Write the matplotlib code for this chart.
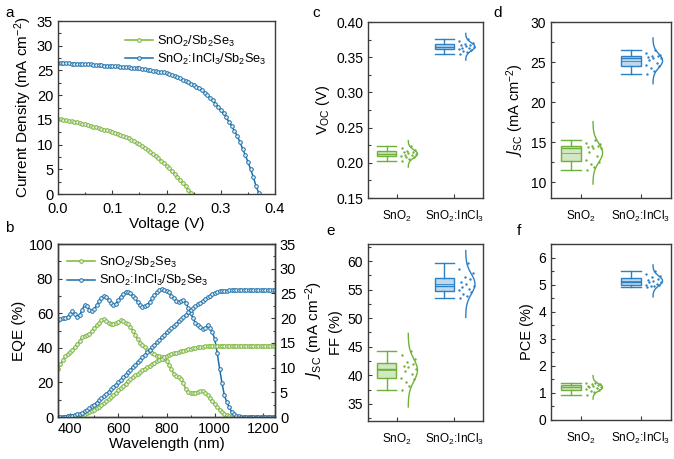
import numpy as np
import matplotlib
matplotlib.use('Agg')
import matplotlib.pyplot as plt
from matplotlib.ticker import AutoMinorLocator

plt.rcParams['font.family'] = ['Liberation Sans', 'DejaVu Sans']
plt.rcParams['mathtext.default'] = 'regular'
plt.rcParams['axes.edgecolor'] = '#3c3c3c'
plt.rcParams['xtick.color'] = '#3c3c3c'
plt.rcParams['ytick.color'] = '#3c3c3c'
plt.rcParams['xtick.labelcolor'] = 'black'
plt.rcParams['ytick.labelcolor'] = 'black'

GREEN = '#7ab632'
BLUE = '#1a6faa'
GREEN_BOX = '#6fb23a'
BLUE_BOX = '#2c80c6'

# ---- a: J-V curves ----
v_green = np.arange(50) * 0.005
j_green = [15.2, 15.1, 15.0, 14.9, 14.8, 14.7, 14.6, 14.5, 14.35, 14.2,
           14.1, 13.95, 13.8, 13.65, 13.5, 13.35, 13.2, 13.05, 12.9, 12.75,
           12.6, 12.4, 12.2, 12.0, 11.8, 11.55, 11.3, 11.0, 10.7, 10.4,
           10.05, 9.7, 9.35, 8.95, 8.55, 8.1, 7.65, 7.2, 6.75, 6.25,
           5.75, 5.2, 4.65, 4.05, 3.45, 2.85, 2.2, 1.55, 0.85, 0.15]
v_blue = np.arange(75) * 0.005
j_blue = [26.5, 26.5, 26.5, 26.45, 26.45, 26.4, 26.4, 26.4, 26.35, 26.35,
          26.3, 26.3, 26.25, 26.2, 26.15, 26.1, 26.05, 26.0, 26.0, 25.95,
          25.9, 25.85, 25.8, 25.75, 25.7, 25.65, 25.6, 25.55, 25.5, 25.45,
          25.4, 25.3, 25.2, 25.1, 25.0, 24.95, 24.85, 24.75, 24.7, 24.6,
          24.5, 24.3, 24.1, 23.85, 23.6, 23.4, 23.15, 22.9, 22.6, 22.3,
          22.0, 21.7, 21.35, 21.0, 20.5, 20.0, 19.5, 19.0, 18.3, 17.6,
          17.0, 16.3, 15.5, 14.6, 13.8, 12.8, 11.8, 10.6, 9.2, 7.9,
          6.5, 5.0, 3.4, 1.6, 0.2]

# ---- b: EQE and integrated Jsc ----
wl = np.arange(350, 1251, 10)
eqe_blue = [56, 56.5, 57, 57, 58, 59.5, 61, 59.5, 58, 59,
            62, 64.8, 64, 62, 61.5, 62.5, 64.5, 67, 69, 70,
            69.5, 67.5, 66, 65, 65.5, 67.5, 69.5, 71, 72, 72,
            71.5, 70, 68.5, 66.5, 64.5, 63.5, 64, 65, 66.5, 68.5,
            70.5, 72, 73.5, 74, 73.5, 73, 72, 70, 68.5, 67,
            66.5, 67, 67.5, 66, 63, 60, 57, 54.5, 53, 52,
            51, 51.5, 53, 51.5, 49, 45, 37, 28, 19.5, 12.5,
            8.5, 5.5, 3, 1.5, 0.8, 0.4, 0.2] + [0.1] * 14
eqe_green = [28, 30.5, 33, 35, 36.5, 37.7, 39, 40.5, 42, 44,
             46, 47, 47.5, 48.2, 49.5, 51.5, 53, 54.5, 55.8, 56.5,
             55.5, 54.5, 54, 54, 54.2, 55, 55.8, 55.5, 54.5, 53.5,
             52, 50, 47.5, 45, 43, 41.5, 40.2, 39, 38, 37,
             36.2, 35.5, 35, 34.5, 33.5, 32.5, 30, 27.5, 25, 23.5,
             23, 22.2, 19.5, 16, 14.5, 14, 13.9, 14, 14.5, 15,
             14.8, 14, 12.5, 11, 9, 7.5, 6, 4.3, 3, 1.8,
             1, 0.5, 0.3, 0.1] + [0.0] * 17
jsc_blue = [0, 0.02, 0.05, 0.1, 0.15, 0.22, 0.3, 0.4, 0.52, 0.66,
            0.9, 1.12, 1.38, 1.75, 2.13, 2.52, 2.93, 3.35, 3.78, 4.22,
            4.67, 5.13, 5.6, 6.07, 6.55, 7.03, 7.52, 8.02, 8.53, 9.05,
            9.57, 10.09, 10.6, 11.1, 11.6, 12.1, 12.6, 13.1, 13.6, 14.1,
            14.6, 15.1, 15.6, 16.1, 16.6, 17.1, 17.55, 18.0, 18.45, 18.9,
            19.35, 19.8, 20.25, 20.7, 21.15, 21.6, 22.0, 22.4, 22.8, 23.15,
            23.5, 23.85, 24.2, 24.5, 24.8, 25.05, 25.25, 25.4, 25.5, 25.55,
            25.58] + [25.6] * 20
jsc_green = [0.0, 0.02, 0.05, 0.08, 0.12, 0.17, 0.23, 0.3, 0.38, 0.47,
             0.57, 0.65, 0.75, 0.98, 1.23, 1.5, 1.8, 2.12, 2.46, 2.82,
             3.2, 3.6, 4.02, 4.45, 4.9, 5.4, 5.85, 6.3, 6.75, 7.2,
             7.6, 8.0, 8.4, 8.75, 9.1, 9.45, 9.8, 10.1, 10.4, 10.7,
             11.0, 11.3, 11.55, 11.8, 12.05, 12.3, 12.5, 12.7, 12.85, 13.0,
             13.15, 13.3, 13.45, 13.6, 13.7, 13.8, 13.9, 14.0, 14.08, 14.15,
             14.22, 14.28, 14.32, 14.36, 14.4, 14.42, 14.44, 14.45] + [14.46] * 23

# ---- c-f: device statistics ----
groups = ['SnO$_2$', 'SnO$_2$:InCl$_3$']
voc_sno2 = [0.2023, 0.2055, 0.2078, 0.2085, 0.2095, 0.2108, 0.2118, 0.2123,
            0.2135, 0.2148, 0.2160, 0.2165, 0.2180, 0.2205, 0.2237]
voc_incl3 = [0.3548, 0.3575, 0.3595, 0.3605, 0.3615, 0.3628, 0.3638, 0.3644,
             0.3655, 0.3668, 0.3680, 0.3690, 0.3705, 0.3728, 0.3758]
jsc_sno2 = [11.55, 11.9, 12.3, 12.5, 12.8, 13.2, 13.7, 14.2,
            14.3, 14.4, 14.45, 14.5, 14.7, 14.9, 15.3]
jsc_incl3 = [23.45, 23.9, 24.2, 24.45, 24.6, 24.9, 25.2, 25.5,
             25.55, 25.6, 25.7, 25.75, 25.9, 26.1, 26.45]
ff_sno2 = [37.5, 38.2, 38.9, 39.3, 39.6, 40.2, 40.7, 41.1,
           41.4, 41.7, 42.0, 42.3, 42.9, 43.5, 44.2]
ff_incl3 = [53.5, 53.9, 54.3, 54.6, 54.9, 55.2, 55.4, 55.6,
            56.0, 56.4, 56.8, 57.2, 57.9, 58.7, 59.6]
pce_sno2 = [0.92, 1.02, 1.08, 1.11, 1.14, 1.18, 1.21, 1.23,
            1.25, 1.27, 1.29, 1.32, 1.33, 1.35, 1.38]
pce_incl3 = [4.93, 4.94, 4.96, 4.97, 5.0, 5.04, 5.08, 5.1,
             5.14, 5.18, 5.22, 5.27, 5.32, 5.4, 5.52]

# fixed horizontal scatter of the dots next to each box
dot_offsets = [0.10, 0.22, 0.16, 0.30, 0.08, 0.26, 0.14, 0.34,
               0.20, 0.12, 0.28, 0.18, 0.32, 0.09, 0.24]


def style_ax(ax, fs=10):
    ax.tick_params(direction='in', which='both', labelsize=fs, width=0.8)
    ax.tick_params(which='major', length=3)
    ax.tick_params(which='minor', length=1.8)
    for s in ax.spines.values():
        s.set_linewidth(1.0)


def curve(ax, x, y, color, **kw):
    ax.plot(x, y, '-o', color=color, lw=1.1, ms=2.6, mfc='#e8f0f5',
            mec=color, mew=0.7, **kw)


fig = plt.figure(figsize=(6.74, 4.59), dpi=100)

# a
ax = fig.add_axes([0.0861, 0.5773, 0.3220, 0.3769])
curve(ax, v_green, j_green, GREEN, label='SnO$_2$/Sb$_2$Se$_3$')
curve(ax, v_blue, j_blue, BLUE, label='SnO$_2$:InCl$_3$/Sb$_2$Se$_3$')
ax.set_xlim(0, 0.4)
ax.set_ylim(0, 35)
ax.set_xticks(np.arange(0, 0.41, 0.1))
ax.set_yticks(np.arange(0, 36, 5))
ax.xaxis.set_minor_locator(AutoMinorLocator(2))
ax.yaxis.set_minor_locator(AutoMinorLocator(2))
ax.set_xlabel('Voltage (V)', fontsize=11, labelpad=0.5)
ax.set_ylabel('Current Density (mA cm$^{-2}$)', fontsize=11, labelpad=2)
style_ax(ax, 10.5)
ax.tick_params(axis='x', pad=6)
ax.legend(loc='upper right', frameon=False, fontsize=9.2, handlelength=2.2,
          handletextpad=0.3, borderaxespad=0.3, labelspacing=0.25,
          bbox_to_anchor=(1.0, 0.98))
fig.text(0.008, 0.962, 'a', fontsize=11)

# b
ax = fig.add_axes([0.0861, 0.0915, 0.3220, 0.3769])
ax2 = ax.twinx()
curve(ax, wl, eqe_green, GREEN, label='SnO$_2$/Sb$_2$Se$_3$')
curve(ax, wl, eqe_blue, BLUE, label='SnO$_2$:InCl$_3$/Sb$_2$Se$_3$')
curve(ax2, wl, jsc_green, GREEN)
curve(ax2, wl, jsc_blue, BLUE)
ax.set_xlim(350, 1250)
ax.set_ylim(0, 100)
ax2.set_ylim(0, 35)
ax.set_xticks(np.arange(400, 1201, 200))
ax.set_yticks(np.arange(0, 101, 20))
ax2.set_yticks(np.arange(0, 36, 5))
ax.xaxis.set_minor_locator(AutoMinorLocator(2))
ax.yaxis.set_minor_locator(AutoMinorLocator(2))
ax2.yaxis.set_minor_locator(AutoMinorLocator(2))
ax.set_xlabel('Wavelength (nm)', fontsize=11, labelpad=1)
ax.set_ylabel('EQE (%)', fontsize=11, labelpad=2)
ax2.set_ylabel('$\\mathit{J}_{SC}$ (mA cm$^{-2}$)', fontsize=11, labelpad=5)
style_ax(ax, 10.5)
style_ax(ax2, 10.5)
ax.legend(loc='upper left', frameon=False, fontsize=9.2, handlelength=2.2,
          handletextpad=0.3, borderaxespad=0.3, labelspacing=0.25,
          bbox_to_anchor=(0.0, 0.99))
fig.text(0.008, 0.495, 'b', fontsize=11)


def stat_panel(rect, data, ylim, yticks, ylabel, letter, lpos):
    ax = fig.add_axes(rect)
    colors = [GREEN_BOX, BLUE_BOX]
    for i, (vals, c) in enumerate(zip(data, colors)):
        pos = i + 1
        vals = np.asarray(vals)
        bp = ax.boxplot([vals], positions=[pos - 0.17], widths=0.33,
                        whis=(0, 100), patch_artist=True, showfliers=False,
                        showmeans=True, meanline=True, capwidths=0.33,
                        manage_ticks=False)
        for b in bp['boxes']:
            b.set_facecolor(matplotlib.colors.to_rgba(c, 0.3))
            b.set_edgecolor(c)
            b.set_linewidth(1.0)
        for key in ['whiskers', 'caps', 'medians', 'means']:
            for ln in bp[key]:
                ln.set_color(c)
                ln.set_linewidth(1.0)
                ln.set_linestyle('-')
        for ln in bp['means']:
            ln.set_linewidth(0.6)
        # dots
        ax.scatter(pos + np.asarray(dot_offsets[:len(vals)]), vals, s=3,
                   color=c, zorder=3, linewidths=0)
        # normal distribution curve
        m, sd = vals.mean(), vals.std(ddof=1)
        yy = np.linspace(m - 3.3 * sd, m + 3.3 * sd, 80)
        pdf = np.exp(-0.5 * ((yy - m) / sd) ** 2)
        ax.plot(pos + 0.2 + 0.16 * pdf, yy, color=c, lw=1.0)
    ax.set_xlim(0.5, 2.5)
    ax.set_ylim(*ylim)
    ax.set_xticks([1, 2])
    ax.set_xticklabels(groups, fontsize=8.5)
    ax.set_yticks(yticks)
    ax.yaxis.set_minor_locator(AutoMinorLocator(2))
    ax.set_ylabel(ylabel, fontsize=10.5, labelpad=3)
    style_ax(ax, 10)
    ax.tick_params(axis='x', which='minor', bottom=False)
    ax.tick_params(axis='x', pad=8, labelsize=8.5)
    fig.text(lpos[0], lpos[1], letter, fontsize=11)
    return ax


stat_panel([0.546, 0.5686, 0.1706, 0.3834], [voc_sno2, voc_incl3],
           (0.15, 0.40), np.arange(0.15, 0.401, 0.05), 'V$_{OC}$ (V)', 'c',
           (0.463, 0.962))
ax = stat_panel([0.8175, 0.5686, 0.178, 0.3834], [jsc_sno2, jsc_incl3],
                (8, 30), np.arange(10, 31, 5),
                '$\\mathit{J}_{SC}$ (mA cm$^{-2}$)', 'd', (0.732, 0.962))
ax.set_yticklabels(['10', '15', '20', '25', '30'])
stat_panel([0.546, 0.0828, 0.1706, 0.3856], [ff_sno2, ff_incl3],
           (32, 63), np.arange(35, 61, 5), 'FF (%)', 'e', (0.484, 0.487))
stat_panel([0.8175, 0.085, 0.178, 0.3834], [pce_sno2, pce_incl3],
           (0, 6.5), np.arange(0, 7, 1), 'PCE (%)', 'f', (0.767, 0.487))

fig.savefig('out.png', dpi=100)
